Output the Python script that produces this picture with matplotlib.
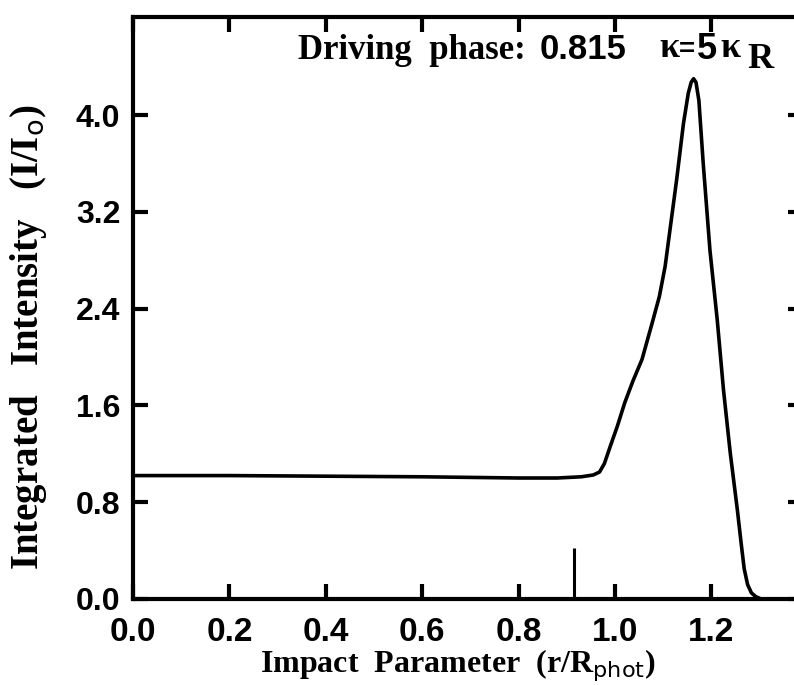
import matplotlib
matplotlib.use("Agg")
import matplotlib.pyplot as plt

# curve
impact = [0.0, 0.2, 0.4, 0.6, 0.8, 0.88, 0.93, 0.955, 0.968, 0.978, 0.99,
          1.005, 1.02, 1.037, 1.056, 1.077, 1.092, 1.104, 1.115, 1.128, 1.142,
          1.152, 1.158, 1.163, 1.168, 1.174, 1.183, 1.197, 1.212, 1.225, 1.239,
          1.254, 1.262, 1.268, 1.275, 1.283, 1.292, 1.303]
intensity = [1.02, 1.02, 1.015, 1.01, 1.0, 1.0, 1.01, 1.025, 1.05, 1.12, 1.26,
             1.43, 1.62, 1.80, 1.98, 2.28, 2.50, 2.75, 3.08, 3.47, 3.93,
             4.18, 4.27, 4.30, 4.27, 4.12, 3.60, 2.88, 2.31, 1.73, 1.21,
             0.73, 0.45, 0.25, 0.12, 0.05, 0.02, 0.0]
marker_x = 0.915
marker_h = 0.42

xticks = [0.0, 0.2, 0.4, 0.6, 0.8, 1.0, 1.2]
yticks = [0.0, 0.8, 1.6, 2.4, 3.2, 4.0]

SERIF = "Liberation Serif"
SANS = "Liberation Sans"

W, H = 794, 685
fig = plt.figure(figsize=(W / 100, H / 100), dpi=100)
ax = fig.add_axes([133 / W, (H - 599) / H, (803 - 133) / W, (599 - 17) / H])

ax.plot(impact, intensity, color="black", linewidth=2.6, solid_joinstyle="round")
ax.vlines(marker_x, 0, marker_h, color="black", linewidth=2.2)

ax.set_xlim(0, 1.39)
ax.set_ylim(0, 4.81)
ax.set_xticks(xticks)
ax.set_yticks(yticks)
ax.set_xticklabels(["%.1f" % v for v in xticks])
ax.set_yticklabels(["%.1f" % v for v in yticks])

for s in ax.spines.values():
    s.set_linewidth(3)
ax.tick_params(direction="in", length=11, width=3, top=True, right=True)
ax.tick_params(axis="x", pad=13)
ax.tick_params(axis="y", pad=9)
for lab in ax.get_xticklabels():
    lab.set_fontfamily(SANS)
    lab.set_fontweight("bold")
    lab.set_fontsize(24)
for lab in ax.get_yticklabels():
    lab.set_fontfamily(SANS)
    lab.set_fontweight("bold")
    lab.set_fontsize(23)

plt.rcParams["mathtext.fontset"] = "custom"
plt.rcParams["mathtext.rm"] = "Liberation Serif:bold"
plt.rcParams["mathtext.sf"] = "Liberation Sans:bold"

ax.set_xlabel(r"Impact  Parameter  (r/R$_{\mathsf{phot}}$)", family=SERIF,
              fontweight="bold", fontsize=23)
ax.xaxis.set_label_coords(0.485, -0.083)
ax.set_ylabel(r"Integrated   Intensity   (I/I$_{\mathsf{o}}$)", family=SERIF,
              fontweight="bold", fontsize=28)
ax.yaxis.set_label_coords(-0.125, 0.45)


def px(x, y, s, fam, size, **kw):
    fig.text(x / W, 1 - y / H, s, family=fam, fontweight="bold", fontsize=size,
             ha="left", va="baseline", **kw)


px(298, 59, "Driving  phase:", SERIF, 25)
px(540, 59, "0.815", SANS, 25)
px(659, 57, "κ", SERIF, 26)
px(679, 57, "=", SANS, 20)
px(697, 59, "5", SANS, 26)
px(720, 57, "κ", SERIF, 26)
px(747, 68, "R", SERIF, 26)

fig.savefig("out.png", dpi=100)
